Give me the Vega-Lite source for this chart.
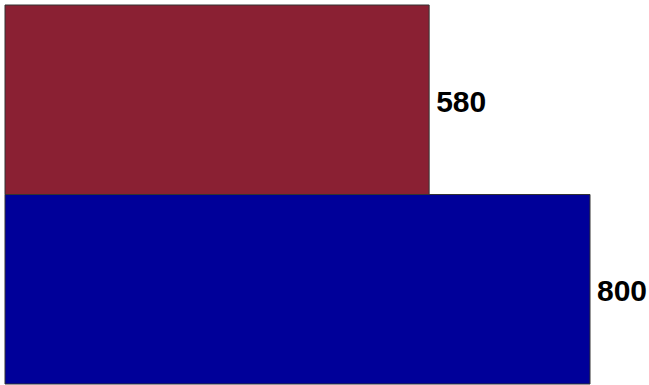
{
  "$schema": "https://vega.github.io/schema/vega-lite/v6.json",
  "width": 585,
  "height": 379,
  "padding": {"left": 5, "top": 5, "right": 59, "bottom": 1},
  "autosize": {"type": "none"},
  "background": "white",
  "config": {"view": {"stroke": null}},
  "data": {"values": [
    {"cat": "A", "value": 580},
    {"cat": "B", "value": 800}
  ]},
  "encoding": {
    "y": {"field": "cat", "type": "nominal", "sort": ["A", "B"], "axis": null,
          "scale": {"paddingInner": 0, "paddingOuter": 0}},
    "x": {"field": "value", "type": "quantitative", "axis": null, "scale": {"domain": [0, 800], "nice": false}}
  },
  "layer": [
    {
      "mark": {"type": "bar", "stroke": "#333333", "strokeWidth": 1},
      "encoding": {
        "color": {"field": "cat", "type": "nominal", "legend": null,
                  "scale": {"domain": ["A", "B"], "range": ["#8A2033", "#000099"]}}
      }
    },
    {
      "mark": {"type": "text", "align": "left", "baseline": "middle", "dx": 7, "dy": 3,
               "font": "Liberation Sans", "fontWeight": "bold", "fontSize": 30, "color": "black"},
      "encoding": {"text": {"field": "value", "type": "quantitative"}}
    }
  ]
}
